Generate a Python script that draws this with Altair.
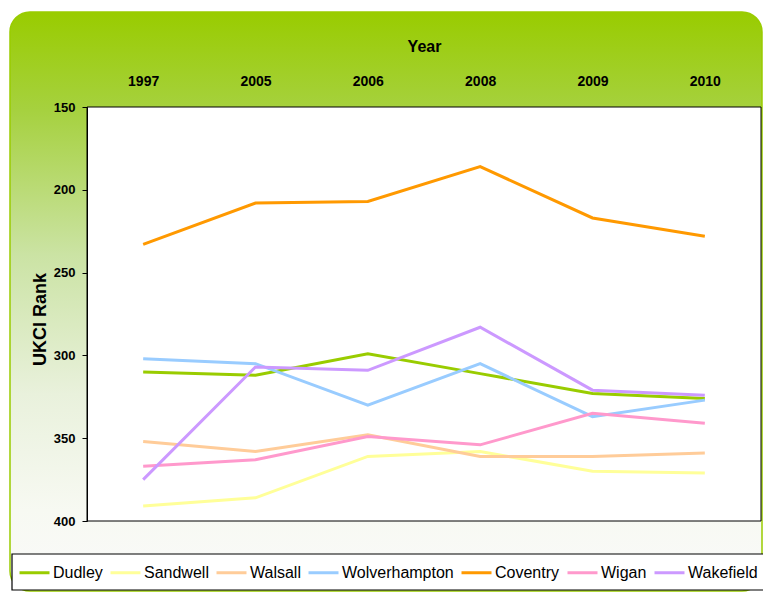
import altair as alt
import pandas as pd

years = ["1997", "2005", "2006", "2008", "2009", "2010"]
series = ["Dudley", "Sandwell", "Walsall", "Wolverhampton", "Coventry", "Wigan", "Wakefield"]
colors = ["#99CC00", "#FFFF99", "#FFCC99", "#99CCFF", "#FF9900", "#FF99CC", "#CC99FF"]

dudley = [310, 312, 299, 311, 323, 326]
sandwell = [391, 386, 361, 358, 370, 371]
walsall = [352, 358, 348, 361, 361, 359]
wolverhampton = [302, 305, 330, 305, 337, 327]
coventry = [233, 208, 207, 186, 217, 228]
wigan = [367, 363, 349, 354, 335, 341]
wakefield = [375, 307, 309, 283, 321, 324]

values = [dudley, sandwell, walsall, wolverhampton, coventry, wigan, wakefield]
rows = []
for name, vals in zip(series, values):
    for yr, v in zip(years, vals):
        rows.append({"Area": name, "Year": yr, "Rank": v})
df = pd.DataFrame(rows)

W, H = 674, 414
SANS = "Liberation Sans, Arial, sans-serif"

dummy = pd.DataFrame({"a": [0]})

panel = alt.Chart(dummy).mark_rect(
    cornerRadius=20,
    stroke="#99CC00",
    strokeWidth=1.5,
    color=alt.LinearGradient(
        gradient="linear",
        x1=0, x2=0, y1=0, y2=1,
        stops=[
            alt.GradientStop(color="#99CC00", offset=0),
            alt.GradientStop(color="#A6D13F", offset=0.17),
            alt.GradientStop(color="#CBE3A4", offset=0.42),
            alt.GradientStop(color="#E9F1DC", offset=0.66),
            alt.GradientStop(color="#F7F9F2", offset=0.86),
            alt.GradientStop(color="#FAFAFA", offset=1),
        ],
    ),
).encode(x=alt.value(-77), x2=alt.value(675), y=alt.value(-95), y2=alt.value(484))

plotbg = alt.Chart(dummy).mark_rect(
    fill="white", stroke="black", strokeWidth=1
).encode(x=alt.value(0), x2=alt.value(W), y=alt.value(0), y2=alt.value(H))

legbox = alt.Chart(dummy).mark_rect(
    fill="white", stroke="black", strokeWidth=1.2
).encode(x=alt.value(-75), x2=alt.value(700), y=alt.value(447), y2=alt.value(483))

lines = alt.Chart(df).mark_line(strokeWidth=3).encode(
    x=alt.X(
        "Year:O",
        sort=years,
        scale=alt.Scale(type="point", padding=0.5),
        axis=alt.Axis(
            orient="top", labelAngle=0, labelFont=SANS, labelFontWeight="bold",
            labelFontSize=14, labelColor="black", labelPadding=22,
            labelBaseline="alphabetic", ticks=False, tickSize=0, domain=False,
            title="Year", titleFont=SANS, titleFontWeight="bold", titleFontSize=16,
            titleColor="black", titleX=337, titleY=-56, titleBaseline="alphabetic",
            titleAlign="center", zindex=1,
        ),
    ),
    y=alt.Y(
        "Rank:Q",
        scale=alt.Scale(domain=[150, 400], reverse=True, nice=False, zero=False),
        axis=alt.Axis(
            values=[150, 200, 250, 300, 350, 400], grid=False,
            labelFont=SANS, labelFontWeight="bold", labelFontSize=13,
            labelColor="black", labelPadding=7, tickSize=5, tickColor="black",
            domainColor="black", title="UKCI Rank", titleFont=SANS,
            titleFontWeight="bold", titleFontSize=18, titleColor="black",
            titleX=-47, titleY=212, titleAngle=270, titleAlign="center",
            titleBaseline="middle", zindex=1,
        ),
    ),
    color=alt.Color(
        "Area:N",
        sort=series,
        scale=alt.Scale(domain=series, range=colors),
        legend=alt.Legend(
            title=None, orient="none", direction="horizontal", legendX=-69,
            legendY=449, symbolType="stroke", symbolSize=900, symbolStrokeWidth=3,
            labelFont=SANS, labelFontSize=16, labelColor="black", labelOffset=2,
            columnPadding=1, padding=0, zindex=1,
        ),
    ),
    detail="Area:N",
)

chart = alt.layer(panel, plotbg, legbox, lines).properties(
    width=W,
    height=H,
    padding={"left": 79, "top": 99, "right": 2, "bottom": 71},
    autosize=alt.AutoSizeParams(type="none"),
).configure(background="white").configure_view(stroke=None)

chart.save("out.html", embed_options={"renderer": "svg", "actions": False})
